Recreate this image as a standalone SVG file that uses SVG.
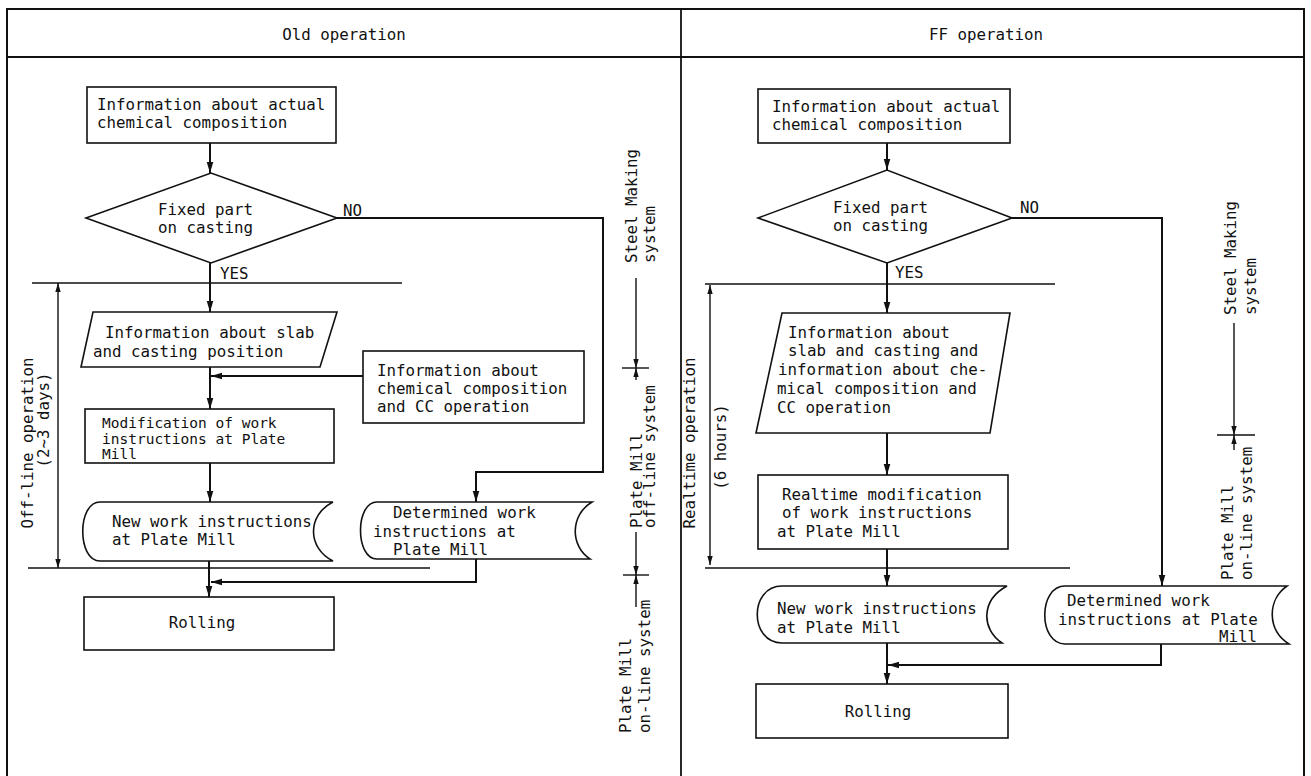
<svg xmlns="http://www.w3.org/2000/svg" width="1311" height="776" viewBox="0 0 1311 776">
<style>
text{font-family:"DejaVu Sans Mono","Liberation Mono",monospace;font-size:15.8px;fill:#111}
.s{fill:#fff;stroke:#111;stroke-width:1.6}
.c{fill:none;stroke:#111;stroke-width:2}
.d{fill:none;stroke:#111;stroke-width:1.4}
.m{text-anchor:middle}
.e{text-anchor:end}
.t{font-size:14.5px}
</style>
<defs>
<marker id="ah" viewBox="0 0 10 10" refX="10" refY="5" markerWidth="11" markerHeight="11" markerUnits="userSpaceOnUse" orient="auto"><path d="M0,2 L10,5 L0,8 Z" fill="#111"/></marker>
<marker id="dh" viewBox="0 0 10 10" refX="10" refY="5" markerWidth="9" markerHeight="9" markerUnits="userSpaceOnUse" orient="auto-start-reverse"><path d="M0,2 L10,5 L0,8 Z" fill="#111"/></marker>
</defs>
<rect x="7" y="9" width="1297" height="790" fill="#fff" stroke="#111" stroke-width="2"/>
<line x1="7" y1="57" x2="1304" y2="57" stroke="#111" stroke-width="2"/>
<line x1="681" y1="9" x2="681" y2="790" stroke="#111" stroke-width="1.8"/>
<text x="344" y="40" class="m">Old operation</text>
<text x="986" y="40" class="m">FF operation</text>

<g id="left-nodes">
<g id="L-actual"><rect class="s" x="87" y="87" width="249" height="56"/><text x="97" y="110">Information about actual</text><text x="97" y="128">chemical composition</text></g>
<g id="L-fixed"><polygon class="s" points="86,218 211,173 337,218 211,263"/><text x="158" y="215">Fixed part</text><text x="158" y="233">on casting</text></g>
<g id="L-slab"><polygon class="s" points="93,312 337,312 320,367 81,367"/><text x="105" y="338">Information about slab</text><text x="93" y="357">and casting position</text></g>
<g id="L-chem"><rect class="s" x="363" y="351" width="221" height="72"/><text x="377" y="376">Information about</text><text x="377" y="394">chemical composition</text><text x="377" y="412">and CC operation</text></g>
<g id="L-mod"><rect class="s" x="85" y="409" width="249" height="54"/><text x="102" y="428" class="t">Modification of work</text><text x="102" y="444" class="t">instructions at Plate</text><text x="102" y="459" class="t">Mill</text></g>
<g id="L-new"><path class="s" d="M100,502 L333,502 C307,515 307,548 333,561 L100,561 C77,561 77,502 100,502 Z"/><text x="112" y="527">New work instructions</text><text x="112" y="545">at Plate Mill</text></g>
<g id="L-det"><path class="s" d="M377,502 L592,502 C570,515 570,546 590,559 L377,559 C355,559 355,502 377,502 Z"/><text x="393" y="518">Determined work</text><text x="373" y="537">instructions at</text><text x="393" y="555">Plate Mill</text></g>
<g id="L-roll"><rect class="s" x="84" y="597" width="250" height="53"/><text x="202" y="628" class="m">Rolling</text></g>
</g>

<g id="right-nodes">
<g id="R-actual"><rect class="s" x="758" y="89" width="252" height="54"/><text x="772" y="112">Information about actual</text><text x="772" y="130">chemical composition</text></g>
<g id="R-fixed"><polygon class="s" points="758,218 887,170 1012,218 887,263"/><text x="833" y="213">Fixed part</text><text x="833" y="231">on casting</text></g>
<g id="R-slab"><polygon class="s" points="782,313 1010,313 990,433 756,433"/><text x="788" y="338">Information about</text><text x="788" y="356">slab and casting and</text><text x="778" y="375">information about che-</text><text x="777" y="394">mical composition and</text><text x="777" y="413">CC operation</text></g>
<g id="R-mod"><rect class="s" x="758" y="475" width="250" height="74"/><text x="782" y="500">Realtime modification</text><text x="782" y="518">of work instructions</text><text x="777" y="537">at Plate Mill</text></g>
<g id="R-new"><path class="s" d="M782,586 L1007,586 C981,600 981,629 1002,643 L782,643 C749,643 749,586 782,586 Z"/><text x="777" y="614">New work instructions</text><text x="777" y="633">at Plate Mill</text></g>
<g id="R-det"><path class="s" d="M1065,586 L1287,586 C1267,600 1267,630 1289,644 L1065,644 C1038,644 1038,586 1065,586 Z"/><text x="1067" y="606">Determined work</text><text x="1058" y="625">instructions at Plate</text><text x="1257" y="642" class="e">Mill</text></g>
<g id="R-roll"><rect class="s" x="756" y="684" width="252" height="54"/><text x="878" y="717" class="m">Rolling</text></g>
</g>

<g id="connectors">
<polyline class="c" points="210,143 210,173" marker-end="url(#ah)"/>
<polyline class="c" points="210,263 210,312" marker-end="url(#ah)"/>
<polyline class="c" points="210,367 210,409" marker-end="url(#ah)"/>
<polyline class="c" points="363,376 211,376" marker-end="url(#ah)"/>
<polyline class="c" points="210,463 210,502" marker-end="url(#ah)"/>
<polyline class="c" points="337,218 603,218 603,472 476,472 476,502" marker-end="url(#ah)"/>
<polyline class="c" points="209,561 209,597" marker-end="url(#ah)"/>
<polyline class="c" points="476,559 476,582 211,582" marker-end="url(#ah)"/>
<polyline class="c" points="887,143 887,170" marker-end="url(#ah)"/>
<polyline class="c" points="887,263 887,313" marker-end="url(#ah)"/>
<polyline class="c" points="887,433 887,475" marker-end="url(#ah)"/>
<polyline class="c" points="887,549 887,586" marker-end="url(#ah)"/>
<polyline class="c" points="1012,218 1162,218 1162,586" marker-end="url(#ah)"/>
<polyline class="c" points="887,643 887,684" marker-end="url(#ah)"/>
<polyline class="c" points="1161,644 1161,665 888,665" marker-end="url(#ah)"/>
</g>

<g id="annotations">
<text x="343" y="216">NO</text>
<text x="220" y="279">YES</text>
<text x="1020" y="213">NO</text>
<text x="895" y="278">YES</text>
<line class="d" x1="32" y1="283" x2="402" y2="283"/>
<line class="d" x1="28" y1="568" x2="430" y2="568"/>
<line class="d" x1="705" y1="284" x2="1055" y2="284"/>
<line class="d" x1="705" y1="568" x2="1070" y2="568"/>
<line class="d" x1="58" y1="283" x2="58" y2="568" marker-start="url(#dh)" marker-end="url(#dh)"/>
<text transform="translate(33,443) rotate(-90)" class="m">Off-line operation</text>
<text transform="translate(49,420) rotate(-90)" class="m">(2~3 days)</text>
<text transform="translate(637,263) rotate(-90)">Steel Making</text>
<text transform="translate(655,263) rotate(-90)">system</text>
<line class="d" x1="636" y1="278" x2="636" y2="368" marker-end="url(#dh)"/>
<line class="d" x1="622" y1="368" x2="649" y2="368"/>
<line class="d" x1="636" y1="380" x2="636" y2="368" marker-end="url(#dh)"/>
<text transform="translate(642,528) rotate(-90)">Plate Mill</text>
<text transform="translate(655,528) rotate(-90)">off-line system</text>
<line class="d" x1="636" y1="532" x2="636" y2="575" marker-end="url(#dh)"/>
<line class="d" x1="623" y1="575" x2="649" y2="575"/>
<line class="d" x1="636" y1="607" x2="636" y2="575" marker-end="url(#dh)"/>
<text transform="translate(631,733) rotate(-90)">Plate Mill</text>
<text transform="translate(650,733) rotate(-90)">on-line system</text>
<line class="d" x1="710" y1="285" x2="710" y2="565" marker-start="url(#dh)" marker-end="url(#dh)"/>
<text transform="translate(695,443) rotate(-90)" class="m">Realtime operation</text>
<text transform="translate(726,447) rotate(-90)" class="m">(6 hours)</text>
<text transform="translate(1236,315) rotate(-90)">Steel Making</text>
<text transform="translate(1256,315) rotate(-90)">system</text>
<line class="d" x1="1234" y1="323" x2="1234" y2="435" marker-end="url(#dh)"/>
<line class="d" x1="1217" y1="435" x2="1255" y2="435"/>
<line class="d" x1="1234" y1="450" x2="1234" y2="435" marker-end="url(#dh)"/>
<text transform="translate(1233,580) rotate(-90)">Plate Mill</text>
<text transform="translate(1252,580) rotate(-90)">on-line system</text>
</g>
</svg>
